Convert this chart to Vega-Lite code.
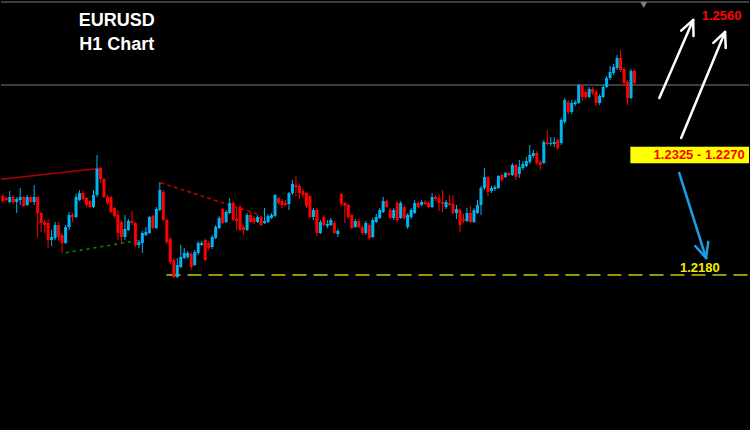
{
"$schema": "https://vega.github.io/schema/vega-lite/v6.json",
"width": 750, "height": 430,
"autosize": {"type": "fit", "contains": "padding"},
"padding": 0,
"background": "#000000",
"config": {"view": {"stroke": null}, "scale": {"continuousPadding": 0}},
"datasets": {
"candles": [
{"t":0,"o":1.2259,"h":1.2261,"l":1.2252,"c":1.2254},
{"t":1,"o":1.2257,"h":1.2258,"l":1.2254,"c":1.2255},
{"t":2,"o":1.2253,"h":1.2264,"l":1.2252,"c":1.2258},
{"t":3,"o":1.2258,"h":1.2260,"l":1.2251,"c":1.2253},
{"t":4,"o":1.2253,"h":1.2258,"l":1.2242,"c":1.2256},
{"t":5,"o":1.2255,"h":1.2267,"l":1.2250,"c":1.2258},
{"t":6,"o":1.2258,"h":1.2259,"l":1.2248,"c":1.2249},
{"t":7,"o":1.2250,"h":1.2260,"l":1.2249,"c":1.2258},
{"t":8,"o":1.2258,"h":1.2259,"l":1.2252,"c":1.2253},
{"t":9,"o":1.2253,"h":1.2270,"l":1.2250,"c":1.2258},
{"t":10,"o":1.2258,"h":1.2259,"l":1.2218,"c":1.2242},
{"t":11,"o":1.2242,"h":1.2243,"l":1.2223,"c":1.2232},
{"t":12,"o":1.2233,"h":1.2235,"l":1.2222,"c":1.2230},
{"t":13,"o":1.2232,"h":1.2236,"l":1.2207,"c":1.2215},
{"t":14,"o":1.2215,"h":1.2225,"l":1.2209,"c":1.2218},
{"t":15,"o":1.2217,"h":1.2233,"l":1.2215,"c":1.2230},
{"t":16,"o":1.2230,"h":1.2233,"l":1.2214,"c":1.2218},
{"t":17,"o":1.2220,"h":1.2222,"l":1.2202,"c":1.2212},
{"t":18,"o":1.2212,"h":1.2230,"l":1.2211,"c":1.2228},
{"t":19,"o":1.2228,"h":1.2243,"l":1.2225,"c":1.2240},
{"t":20,"o":1.2240,"h":1.2242,"l":1.2233,"c":1.2238},
{"t":21,"o":1.2238,"h":1.2261,"l":1.2237,"c":1.2258},
{"t":22,"o":1.2255,"h":1.2265,"l":1.2254,"c":1.2262},
{"t":23,"o":1.2262,"h":1.2264,"l":1.2255,"c":1.2256},
{"t":24,"o":1.2257,"h":1.2258,"l":1.2248,"c":1.2250},
{"t":25,"o":1.2254,"h":1.2255,"l":1.2247,"c":1.2248},
{"t":26,"o":1.2248,"h":1.2265,"l":1.2247,"c":1.2260},
{"t":27,"o":1.2260,"h":1.2300,"l":1.2258,"c":1.2286},
{"t":28,"o":1.2287,"h":1.2288,"l":1.2272,"c":1.2276},
{"t":29,"o":1.2276,"h":1.2277,"l":1.2257,"c":1.2258},
{"t":30,"o":1.2258,"h":1.2260,"l":1.2250,"c":1.2252},
{"t":31,"o":1.2258,"h":1.2259,"l":1.2242,"c":1.2243},
{"t":32,"o":1.2247,"h":1.2248,"l":1.2237,"c":1.2239},
{"t":33,"o":1.2240,"h":1.2245,"l":1.2215,"c":1.2222},
{"t":34,"o":1.2233,"h":1.2235,"l":1.2212,"c":1.2218},
{"t":35,"o":1.2218,"h":1.2240,"l":1.2215,"c":1.2226},
{"t":36,"o":1.2225,"h":1.2236,"l":1.2224,"c":1.2234},
{"t":37,"o":1.2234,"h":1.2244,"l":1.2230,"c":1.2232},
{"t":38,"o":1.2232,"h":1.2233,"l":1.2208,"c":1.2210},
{"t":39,"o":1.2210,"h":1.2215,"l":1.2207,"c":1.2213},
{"t":40,"o":1.2212,"h":1.2224,"l":1.2202,"c":1.2222},
{"t":41,"o":1.2220,"h":1.2228,"l":1.2219,"c":1.2223},
{"t":42,"o":1.2222,"h":1.2239,"l":1.2221,"c":1.2238},
{"t":43,"o":1.2239,"h":1.2240,"l":1.2226,"c":1.2227},
{"t":44,"o":1.2227,"h":1.2248,"l":1.2226,"c":1.2246},
{"t":45,"o":1.2245,"h":1.2273,"l":1.2244,"c":1.2265},
{"t":46,"o":1.2263,"h":1.2265,"l":1.2234,"c":1.2235},
{"t":47,"o":1.2235,"h":1.2236,"l":1.2211,"c":1.2213},
{"t":48,"o":1.2216,"h":1.2218,"l":1.2191,"c":1.2193},
{"t":49,"o":1.2195,"h":1.2197,"l":1.2177,"c":1.2178},
{"t":50,"o":1.2178,"h":1.2197,"l":1.2177,"c":1.2190},
{"t":51,"o":1.2188,"h":1.2210,"l":1.2187,"c":1.2198},
{"t":52,"o":1.2197,"h":1.2207,"l":1.2196,"c":1.2202},
{"t":53,"o":1.2198,"h":1.2204,"l":1.2196,"c":1.2202},
{"t":54,"o":1.2201,"h":1.2203,"l":1.2185,"c":1.2188},
{"t":55,"o":1.2190,"h":1.2205,"l":1.2189,"c":1.2203},
{"t":56,"o":1.2202,"h":1.2214,"l":1.2200,"c":1.2212},
{"t":57,"o":1.2210,"h":1.2214,"l":1.2209,"c":1.2212},
{"t":58,"o":1.2215,"h":1.2216,"l":1.2194,"c":1.2195},
{"t":59,"o":1.2212,"h":1.2214,"l":1.2205,"c":1.2207},
{"t":60,"o":1.2208,"h":1.2220,"l":1.2206,"c":1.2218},
{"t":61,"o":1.2217,"h":1.2230,"l":1.2216,"c":1.2228},
{"t":62,"o":1.2227,"h":1.2239,"l":1.2226,"c":1.2237},
{"t":63,"o":1.2246,"h":1.2247,"l":1.2231,"c":1.2232},
{"t":64,"o":1.2233,"h":1.2245,"l":1.2232,"c":1.2243},
{"t":65,"o":1.2242,"h":1.2257,"l":1.2241,"c":1.2252},
{"t":66,"o":1.2252,"h":1.2254,"l":1.2234,"c":1.2235},
{"t":67,"o":1.2236,"h":1.2248,"l":1.2225,"c":1.2234},
{"t":68,"o":1.2248,"h":1.2250,"l":1.2224,"c":1.2225},
{"t":69,"o":1.2228,"h":1.2230,"l":1.2220,"c":1.2225},
{"t":70,"o":1.2225,"h":1.2242,"l":1.2224,"c":1.2240},
{"t":71,"o":1.2240,"h":1.2242,"l":1.2232,"c":1.2233},
{"t":72,"o":1.2237,"h":1.2239,"l":1.2231,"c":1.2233},
{"t":73,"o":1.2233,"h":1.2240,"l":1.2232,"c":1.2238},
{"t":74,"o":1.2238,"h":1.2239,"l":1.2229,"c":1.2230},
{"t":75,"o":1.2232,"h":1.2247,"l":1.2231,"c":1.2234},
{"t":76,"o":1.2233,"h":1.2241,"l":1.2232,"c":1.2239},
{"t":77,"o":1.2237,"h":1.2242,"l":1.2236,"c":1.2240},
{"t":78,"o":1.2239,"h":1.2261,"l":1.2238,"c":1.2260},
{"t":79,"o":1.2257,"h":1.2258,"l":1.2250,"c":1.2252},
{"t":80,"o":1.2254,"h":1.2256,"l":1.2247,"c":1.2250},
{"t":81,"o":1.2252,"h":1.2255,"l":1.2249,"c":1.2250},
{"t":82,"o":1.2251,"h":1.2263,"l":1.2245,"c":1.2262},
{"t":83,"o":1.2262,"h":1.2275,"l":1.2260,"c":1.2271},
{"t":84,"o":1.2270,"h":1.2279,"l":1.2259,"c":1.2268},
{"t":85,"o":1.2269,"h":1.2271,"l":1.2256,"c":1.2262},
{"t":86,"o":1.2264,"h":1.2266,"l":1.2257,"c":1.2260},
{"t":87,"o":1.2262,"h":1.2263,"l":1.2247,"c":1.2249},
{"t":88,"o":1.2259,"h":1.2260,"l":1.2237,"c":1.2238},
{"t":89,"o":1.2238,"h":1.2247,"l":1.2235,"c":1.2245},
{"t":90,"o":1.2245,"h":1.2247,"l":1.2219,"c":1.2222},
{"t":91,"o":1.2222,"h":1.2235,"l":1.2221,"c":1.2233},
{"t":92,"o":1.2238,"h":1.2240,"l":1.2229,"c":1.2230},
{"t":93,"o":1.2229,"h":1.2235,"l":1.2227,"c":1.2231},
{"t":94,"o":1.2230,"h":1.2237,"l":1.2229,"c":1.2235},
{"t":95,"o":1.2232,"h":1.2234,"l":1.2221,"c":1.2222},
{"t":96,"o":1.2221,"h":1.2226,"l":1.2218,"c":1.2224},
{"t":97,"o":1.2261,"h":1.2262,"l":1.2249,"c":1.2251},
{"t":98,"o":1.2252,"h":1.2253,"l":1.2232,"c":1.2249},
{"t":99,"o":1.2250,"h":1.2251,"l":1.2236,"c":1.2238},
{"t":100,"o":1.2240,"h":1.2241,"l":1.2226,"c":1.2227},
{"t":101,"o":1.2228,"h":1.2236,"l":1.2227,"c":1.2234},
{"t":102,"o":1.2234,"h":1.2236,"l":1.2227,"c":1.2228},
{"t":103,"o":1.2228,"h":1.2230,"l":1.2220,"c":1.2222},
{"t":104,"o":1.2222,"h":1.2234,"l":1.2220,"c":1.2232},
{"t":105,"o":1.2230,"h":1.2232,"l":1.2215,"c":1.2217},
{"t":106,"o":1.2218,"h":1.2237,"l":1.2217,"c":1.2235},
{"t":107,"o":1.2233,"h":1.2241,"l":1.2232,"c":1.2238},
{"t":108,"o":1.2237,"h":1.2247,"l":1.2236,"c":1.2245},
{"t":109,"o":1.2243,"h":1.2258,"l":1.2242,"c":1.2254},
{"t":110,"o":1.2254,"h":1.2255,"l":1.2247,"c":1.2248},
{"t":111,"o":1.2245,"h":1.2247,"l":1.2236,"c":1.2237},
{"t":112,"o":1.2237,"h":1.2247,"l":1.2235,"c":1.2245},
{"t":113,"o":1.2252,"h":1.2254,"l":1.2233,"c":1.2235},
{"t":114,"o":1.2237,"h":1.2254,"l":1.2236,"c":1.2252},
{"t":115,"o":1.2248,"h":1.2250,"l":1.2235,"c":1.2237},
{"t":116,"o":1.2228,"h":1.2242,"l":1.2226,"c":1.2240},
{"t":117,"o":1.2238,"h":1.2247,"l":1.2236,"c":1.2245},
{"t":118,"o":1.2242,"h":1.2255,"l":1.2241,"c":1.2252},
{"t":119,"o":1.2252,"h":1.2254,"l":1.2247,"c":1.2248},
{"t":120,"o":1.2250,"h":1.2255,"l":1.2249,"c":1.2253},
{"t":121,"o":1.2253,"h":1.2255,"l":1.2250,"c":1.2251},
{"t":122,"o":1.2252,"h":1.2254,"l":1.2247,"c":1.2248},
{"t":123,"o":1.2248,"h":1.2262,"l":1.2247,"c":1.2258},
{"t":124,"o":1.2258,"h":1.2260,"l":1.2254,"c":1.2256},
{"t":125,"o":1.2257,"h":1.2261,"l":1.2244,"c":1.2252},
{"t":126,"o":1.2253,"h":1.2265,"l":1.2243,"c":1.2251},
{"t":127,"o":1.2248,"h":1.2255,"l":1.2246,"c":1.2253},
{"t":128,"o":1.2252,"h":1.2260,"l":1.2249,"c":1.2250},
{"t":129,"o":1.2251,"h":1.2260,"l":1.2241,"c":1.2242},
{"t":130,"o":1.2242,"h":1.2250,"l":1.2236,"c":1.2246},
{"t":131,"o":1.2245,"h":1.2247,"l":1.2223,"c":1.2230},
{"t":132,"o":1.2236,"h":1.2241,"l":1.2232,"c":1.2234},
{"t":133,"o":1.2234,"h":1.2247,"l":1.2233,"c":1.2242},
{"t":134,"o":1.2242,"h":1.2249,"l":1.2232,"c":1.2233},
{"t":135,"o":1.2233,"h":1.2247,"l":1.2232,"c":1.2245},
{"t":136,"o":1.2242,"h":1.2255,"l":1.2241,"c":1.2250},
{"t":137,"o":1.2250,"h":1.2269,"l":1.2240,"c":1.2267},
{"t":138,"o":1.2267,"h":1.2287,"l":1.2265,"c":1.2278},
{"t":139,"o":1.2278,"h":1.2279,"l":1.2259,"c":1.2263},
{"t":140,"o":1.2264,"h":1.2269,"l":1.2262,"c":1.2267},
{"t":141,"o":1.2266,"h":1.2270,"l":1.2264,"c":1.2268},
{"t":142,"o":1.2267,"h":1.2280,"l":1.2266,"c":1.2279},
{"t":143,"o":1.2280,"h":1.2281,"l":1.2273,"c":1.2275},
{"t":144,"o":1.2278,"h":1.2283,"l":1.2277,"c":1.2282},
{"t":145,"o":1.2282,"h":1.2283,"l":1.2279,"c":1.2280},
{"t":146,"o":1.2280,"h":1.2292,"l":1.2279,"c":1.2290},
{"t":147,"o":1.2290,"h":1.2291,"l":1.2275,"c":1.2278},
{"t":148,"o":1.2281,"h":1.2295,"l":1.2277,"c":1.2288},
{"t":149,"o":1.2287,"h":1.2294,"l":1.2285,"c":1.2291},
{"t":150,"o":1.2289,"h":1.2298,"l":1.2288,"c":1.2294},
{"t":151,"o":1.2293,"h":1.2310,"l":1.2291,"c":1.2300},
{"t":152,"o":1.2299,"h":1.2305,"l":1.2297,"c":1.2302},
{"t":153,"o":1.2302,"h":1.2304,"l":1.2290,"c":1.2292},
{"t":154,"o":1.2293,"h":1.2295,"l":1.2285,"c":1.2290},
{"t":155,"o":1.2292,"h":1.2315,"l":1.2291,"c":1.2313},
{"t":156,"o":1.2313,"h":1.2325,"l":1.2310,"c":1.2311},
{"t":157,"o":1.2311,"h":1.2318,"l":1.2309,"c":1.2312},
{"t":158,"o":1.2311,"h":1.2318,"l":1.2308,"c":1.2313},
{"t":159,"o":1.2315,"h":1.2317,"l":1.2305,"c":1.2307},
{"t":160,"o":1.2312,"h":1.2337,"l":1.2310,"c":1.2335},
{"t":161,"o":1.2333,"h":1.2357,"l":1.2331,"c":1.2355},
{"t":162,"o":1.2353,"h":1.2355,"l":1.2341,"c":1.2343},
{"t":163,"o":1.2343,"h":1.2355,"l":1.2341,"c":1.2352},
{"t":164,"o":1.2351,"h":1.2355,"l":1.2349,"c":1.2353},
{"t":165,"o":1.2352,"h":1.2371,"l":1.2351,"c":1.2370},
{"t":166,"o":1.2370,"h":1.2371,"l":1.2354,"c":1.2358},
{"t":167,"o":1.2363,"h":1.2365,"l":1.2356,"c":1.2358},
{"t":168,"o":1.2358,"h":1.2368,"l":1.2357,"c":1.2366},
{"t":169,"o":1.2366,"h":1.2368,"l":1.2360,"c":1.2362},
{"t":170,"o":1.2363,"h":1.2365,"l":1.2349,"c":1.2352},
{"t":171,"o":1.2352,"h":1.2361,"l":1.2350,"c":1.2359},
{"t":172,"o":1.2358,"h":1.2370,"l":1.2357,"c":1.2368},
{"t":173,"o":1.2368,"h":1.2379,"l":1.2367,"c":1.2377},
{"t":174,"o":1.2377,"h":1.2389,"l":1.2375,"c":1.2383},
{"t":175,"o":1.2382,"h":1.2391,"l":1.2380,"c":1.2388},
{"t":176,"o":1.2387,"h":1.2400,"l":1.2385,"c":1.2397},
{"t":177,"o":1.2397,"h":1.2405,"l":1.2383,"c":1.2385},
{"t":178,"o":1.2386,"h":1.2388,"l":1.2369,"c":1.2372},
{"t":179,"o":1.2373,"h":1.2375,"l":1.2350,"c":1.2357},
{"t":180,"o":1.2357,"h":1.2386,"l":1.2356,"c":1.2384},
{"t":181,"o":1.2384,"h":1.2386,"l":1.2370,"c":1.2372}
]
},
"layer": [
{
"data": {"values": [{"p": 1.2370}, {"p": 1.2453}]},
"mark": {"type": "rule", "color": "#7a7a7a", "strokeWidth": 1},
"encoding": {
"y": {"field": "p", "type": "quantitative", "scale": {"domain": [1.2025, 1.2455], "nice": false, "zero": false}, "axis": null}
}
},
{
"data": {"values": [{"t": -0.5, "p": 1.22757, "t2": 28.07, "p2": 1.22867}]},
"mark": {"type": "rule", "color": "#b00000", "strokeWidth": 1.5},
"encoding": {
"x": {"field": "t", "type": "quantitative", "scale": {"domain": [-0.5, 213.79], "nice": false, "zero": false, "padding": 0}, "axis": null},
"x2": {"field": "t2"},
"y": {"field": "p", "type": "quantitative", "scale": {"domain": [1.2025, 1.2455], "nice": false, "zero": false}, "axis": null},
"y2": {"field": "p2"}
}
},
{
"data": {"values": [{"t": 18.07, "p": 1.22023, "t2": 39.5, "p2": 1.2215}]},
"mark": {"type": "rule", "color": "#009000", "strokeWidth": 1.5, "strokeDash": [3, 4]},
"encoding": {
"x": {"field": "t", "type": "quantitative", "scale": {"domain": [-0.5, 213.79], "nice": false, "zero": false, "padding": 0}, "axis": null},
"x2": {"field": "t2"},
"y": {"field": "p", "type": "quantitative", "scale": {"domain": [1.2025, 1.2455], "nice": false, "zero": false}, "axis": null},
"y2": {"field": "p2"}
}
},
{
"data": {"values": [{"t": 45.2, "p": 1.22723, "t2": 72.9, "p2": 1.2241}]},
"mark": {"type": "rule", "color": "#c00000", "strokeWidth": 1.5, "strokeDash": [4, 3]},
"encoding": {
"x": {"field": "t", "type": "quantitative", "scale": {"domain": [-0.5, 213.79], "nice": false, "zero": false, "padding": 0}, "axis": null},
"x2": {"field": "t2"},
"y": {"field": "p", "type": "quantitative", "scale": {"domain": [1.2025, 1.2455], "nice": false, "zero": false}, "axis": null},
"y2": {"field": "p2"}
}
},
{
"data": {"values": [{"t": 46.9, "p": 1.2180, "t2": 213.79, "p2": 1.2180}]},
"mark": {"type": "rule", "color": "#c8c800", "strokeWidth": 1.5, "strokeDash": [14, 7]},
"encoding": {
"x": {"field": "t", "type": "quantitative", "scale": {"domain": [-0.5, 213.79], "nice": false, "zero": false, "padding": 0}, "axis": null},
"x2": {"field": "t2"},
"y": {"field": "p", "type": "quantitative", "scale": {"domain": [1.2025, 1.2455], "nice": false, "zero": false}, "axis": null},
"y2": {"field": "p2"}
}
},
{
"data": {"name": "candles"},
"mark": {"type": "rule", "strokeWidth": 1},
"encoding": {
"x": {"field": "t", "type": "quantitative", "scale": {"domain": [-0.5, 213.79], "nice": false, "zero": false, "padding": 0}, "axis": null},
"y": {"field": "l", "type": "quantitative", "scale": {"domain": [1.2025, 1.2455], "nice": false, "zero": false}, "axis": null},
"y2": {"field": "h"},
"color": {"condition": {"test": "datum.c > datum.o", "value": "#00b4f0"}, "value": "#ff0000"}
}
},
{
"data": {"name": "candles"},
"mark": {"type": "bar", "size": 3},
"encoding": {
"x": {"field": "t", "type": "quantitative", "scale": {"domain": [-0.5, 213.79], "nice": false, "zero": false, "padding": 0}, "axis": null},
"y": {"field": "o", "type": "quantitative", "scale": {"domain": [1.2025, 1.2455], "nice": false, "zero": false}, "axis": null},
"y2": {"field": "c"},
"color": {"condition": {"test": "datum.c > datum.o", "value": "#00b4f0"}, "value": "#ff0000"}
}
},
{
"data": {"values": [{"t": 179.8, "p": 1.23083, "t2": 213.79, "p2": 1.22917}]},
"mark": {"type": "rect", "color": "#ffff00"},
"encoding": {
"x": {"field": "t", "type": "quantitative", "scale": {"domain": [-0.5, 213.79], "nice": false, "zero": false, "padding": 0}, "axis": null},
"x2": {"field": "t2"},
"y": {"field": "p", "type": "quantitative", "scale": {"domain": [1.2025, 1.2455], "nice": false, "zero": false}, "axis": null},
"y2": {"field": "p2"}
}
},
{
"data": {"values": [
{"t": 188.1, "p": 1.2357, "t2": 197.8, "p2": 1.2435},
{"t": 197.8, "p": 1.2435, "t2": 194.36, "p2": 1.24244},
{"t": 197.8, "p": 1.2435, "t2": 197.9, "p2": 1.2419},
{"t": 194.36, "p": 1.2317, "t2": 206.93, "p2": 1.2423},
{"t": 206.93, "p": 1.2423, "t2": 203.56, "p2": 1.24122},
{"t": 206.93, "p": 1.2423, "t2": 207.13, "p2": 1.2407}
]},
"mark": {"type": "rule", "color": "#ffffff", "strokeWidth": 2.5, "strokeCap": "round"},
"encoding": {
"x": {"field": "t", "type": "quantitative", "scale": {"domain": [-0.5, 213.79], "nice": false, "zero": false, "padding": 0}, "axis": null},
"x2": {"field": "t2"},
"y": {"field": "p", "type": "quantitative", "scale": {"domain": [1.2025, 1.2455], "nice": false, "zero": false}, "axis": null},
"y2": {"field": "p2"}
}
},
{
"data": {"values": [
{"t": 193.79, "p": 1.2282, "t2": 201.5, "p2": 1.2197},
{"t": 201.5, "p": 1.2197, "t2": 202.1, "p2": 1.22129},
{"t": 201.5, "p": 1.2197, "t2": 198.41, "p2": 1.22088}
]},
"mark": {"type": "rule", "color": "#1a9ee6", "strokeWidth": 2.5, "strokeCap": "round"},
"encoding": {
"x": {"field": "t", "type": "quantitative", "scale": {"domain": [-0.5, 213.79], "nice": false, "zero": false, "padding": 0}, "axis": null},
"x2": {"field": "t2"},
"y": {"field": "p", "type": "quantitative", "scale": {"domain": [1.2025, 1.2455], "nice": false, "zero": false}, "axis": null},
"y2": {"field": "p2"}
}
},
{
"data": {"values": [{"t": 183.64, "p": 1.2450}]},
"mark": {"type": "point", "shape": "triangle-down", "size": 45, "filled": true, "color": "#808080", "opacity": 1},
"encoding": {
"x": {"field": "t", "type": "quantitative", "scale": {"domain": [-0.5, 213.79], "nice": false, "zero": false, "padding": 0}, "axis": null},
"y": {"field": "p", "type": "quantitative", "scale": {"domain": [1.2025, 1.2455], "nice": false, "zero": false}, "axis": null}
}
},
{
"data": {"values": [
{"t": 32.64, "p": 1.2429, "label": "EURUSD"},
{"t": 32.64, "p": 1.2405, "label": "H1 Chart"}
]},
"mark": {"type": "text", "font": "Liberation Sans", "fontWeight": "bold", "fontSize": 18, "color": "#ffffff", "align": "center", "baseline": "alphabetic"},
"encoding": {
"x": {"field": "t", "type": "quantitative", "scale": {"domain": [-0.5, 213.79], "nice": false, "zero": false, "padding": 0}, "axis": null},
"y": {"field": "p", "type": "quantitative", "scale": {"domain": [1.2025, 1.2455], "nice": false, "zero": false}, "axis": null},
"text": {"field": "label"}
}
},
{
"data": {"values": [
{"t": 205.93, "p": 1.24355, "label": "1.2560"},
{"t": 199.5, "p": 1.2296, "label": "1.2325 - 1.2270"}
]},
"mark": {"type": "text", "font": "Liberation Sans", "fontWeight": "bold", "fontSize": 13, "color": "#ff0000", "align": "center", "baseline": "alphabetic"},
"encoding": {
"x": {"field": "t", "type": "quantitative", "scale": {"domain": [-0.5, 213.79], "nice": false, "zero": false, "padding": 0}, "axis": null},
"y": {"field": "p", "type": "quantitative", "scale": {"domain": [1.2025, 1.2455], "nice": false, "zero": false}, "axis": null},
"text": {"field": "label"}
}
},
{
"data": {"values": [{"t": 199.7, "p": 1.21833, "label": "1.2180"}]},
"mark": {"type": "text", "font": "Liberation Sans", "fontWeight": "bold", "fontSize": 13, "color": "#f0f000", "align": "center", "baseline": "alphabetic"},
"encoding": {
"x": {"field": "t", "type": "quantitative", "scale": {"domain": [-0.5, 213.79], "nice": false, "zero": false, "padding": 0}, "axis": null},
"y": {"field": "p", "type": "quantitative", "scale": {"domain": [1.2025, 1.2455], "nice": false, "zero": false}, "axis": null},
"text": {"field": "label"}
}
}
]
}
